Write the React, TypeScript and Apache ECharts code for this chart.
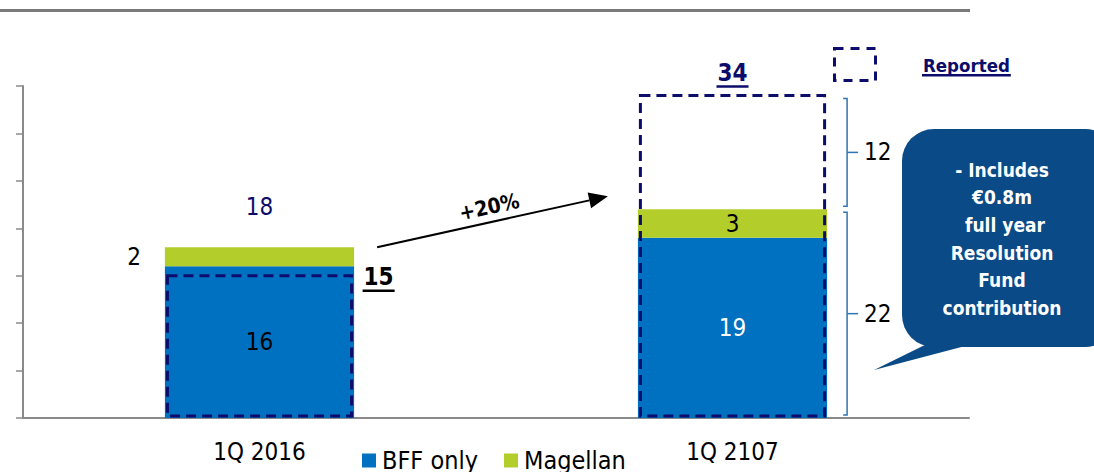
import { useEffect, useRef } from "react";
import * as echarts from "echarts";

// Quarterly figures (EUR m)
const categories = ["1Q 2016", "1Q 2107"];
const bffOnly = [16, 19];
const magellan = [2, 3];
const reported = [15, 34];
const growthLabel = "+20%";
const calloutLines = ["- Includes", "€0.8m", " full year", "Resolution", "Fund", "contribution"];
const reportedKeyLabel = "Reported";

const totals = bffOnly.map((v, i) => v + magellan[i]);

const FONT = "'DejaVu Sans Condensed', 'DejaVu Sans', sans-serif";
const NAVY = "#0C0C6A";
const BLUE = "#0070C0";
const GREEN = "#B3CD2B";
const BRACKET = "#2E75B6";
const CALLOUT = "#0A4A86";
const AXIS = "#8A8A8A";
const BAR_RATIO = 0.4;
const LABEL_SIZE = 24;
const DASH = [10, 6];

let measureCtx: CanvasRenderingContext2D | null = null;
function textWidth(text: string, font: string): number {
  if (!measureCtx) measureCtx = document.createElement("canvas").getContext("2d");
  if (!measureCtx) return text.length * 12;
  measureCtx.font = font;
  return measureCtx.measureText(text).width;
}

function underlinedText(text: string, x: number, y: number, size: number, color: string, align: "left" | "center") {
  const w = textWidth(text, `bold ${size}px ${FONT}`);
  const left = align === "center" ? x - w / 2 : x;
  return [
    {
      type: "text",
      style: {
        text,
        x: left,
        y,
        align: "left",
        verticalAlign: "middle",
        fontSize: size,
        fontWeight: "bold",
        fontFamily: FONT,
        fill: color,
      },
    },
    {
      type: "line",
      shape: { x1: left - 1, y1: y + size * 0.56, x2: left + w + 1, y2: y + size * 0.56 },
      style: { stroke: color, lineWidth: 2.5 },
    },
  ];
}

export default function App() {
  const ref = useRef<HTMLDivElement>(null);

  useEffect(() => {
    if (!ref.current) return;
    const chart = echarts.init(ref.current, undefined, { renderer: "svg" });

    const halfBar = (api: any) => (api.size([1, 0])[0] * BAR_RATIO) / 2;

    const option: any = {
      animation: false,
      textStyle: { fontFamily: FONT },
      grid: { left: 23, right: 125, top: 86, bottom: 54, containLabel: false },
      legend: {
        data: ["BFF only", "Magellan"],
        left: 362,
        top: 448,
        padding: 0,
        itemWidth: 14,
        itemHeight: 14,
        itemGap: 26,
        icon: "rect",
        selectedMode: false,
        textStyle: { fontSize: 25, fontFamily: FONT, color: "#000", padding: [0, 0, 0, 1] },
      },
      xAxis: {
        type: "category",
        data: categories,
        axisLine: { lineStyle: { color: AXIS, width: 2 } },
        axisTick: { length: 9, lineStyle: { color: AXIS, width: 1.5 } },
        axisLabel: { fontSize: 24, color: "#000", margin: 22, fontFamily: FONT },
      },
      yAxis: {
        type: "value",
        min: 0,
        max: 35,
        interval: 5,
        axisLine: { show: true, lineStyle: { color: AXIS, width: 2 } },
        axisTick: { show: true, length: 7, lineStyle: { color: AXIS, width: 1.5 } },
        axisLabel: { show: false },
        splitLine: { show: false },
      },
      series: [
        {
          name: "BFF only",
          type: "bar",
          stack: "q",
          barWidth: `${BAR_RATIO * 100}%`,
          itemStyle: { color: BLUE },
          data: bffOnly.map((v, i) => ({
            value: v,
            label: {
              show: true,
              position: "inside",
              fontSize: LABEL_SIZE,
              fontFamily: FONT,
              color: i === 0 ? "#000" : "#fff",
            },
          })),
        },
        {
          name: "Magellan",
          type: "bar",
          stack: "q",
          itemStyle: { color: GREEN },
          data: magellan.map((v, i) => ({
            value: v,
            label: {
              show: true,
              position: i === 0 ? "left" : "inside",
              distance: 24,
              fontSize: LABEL_SIZE,
              fontFamily: FONT,
              color: "#000",
            },
          })),
        },
        {
          // dashed outline of the reported figure
          name: "Reported",
          type: "custom",
          z: 5,
          data: reported.map((v, i) => [i, v]),
          encode: { x: 0, y: 1 },
          renderItem: (params: any, api: any) => {
            const i = params.dataIndex;
            const top = api.coord([api.value(0), api.value(1)]);
            const base = api.coord([api.value(0), 0]);
            const half = halfBar(api);
            const x0 = top[0] - half + 2.5;
            const x1 = top[0] + half - 2.5;
            const label = String(api.value(1));
            const lbl =
              i === 0
                ? underlinedText(label, x1 + 12, top[1] + 1.5, 24, "#000", "left")
                : underlinedText(label, top[0], top[1] - 22.5, 24, NAVY, "center");
            return {
              type: "group",
              children: [
                {
                  type: "rect",
                  shape: { x: x0, y: top[1], width: x1 - x0, height: base[1] - 2 - top[1] },
                  style: { fill: "none", stroke: NAVY, lineWidth: 3, lineDash: DASH },
                },
                ...lbl,
              ],
            };
          },
        },
        {
          // total above the first stack
          name: "Total",
          type: "custom",
          z: 5,
          data: [[0, totals[0]]],
          encode: { x: 0, y: 1 },
          renderItem: (_p: any, api: any) => {
            const pt = api.coord([api.value(0), api.value(1)]);
            return {
              type: "text",
              style: {
                text: String(api.value(1)),
                x: pt[0],
                y: pt[1] - 40,
                align: "center",
                verticalAlign: "middle",
                fontSize: LABEL_SIZE,
                fontFamily: FONT,
                fill: NAVY,
              },
            };
          },
        },
        {
          // braces splitting the reported figure of the second quarter
          name: "Split",
          type: "custom",
          z: 5,
          data: [
            [1, 0, totals[1]],
            [1, totals[1], reported[1]],
          ],
          encode: { x: 0, y: [1, 2] },
          renderItem: (_p: any, api: any) => {
            const lo = api.coord([api.value(0), api.value(1)]);
            const hi = api.coord([api.value(0), api.value(2)]);
            const bx = lo[0] + halfBar(api) + 20;
            const yTop = hi[1] + 3;
            const yBot = lo[1] - 3;
            const mid = (yTop + yBot) / 2;
            const st = { stroke: BRACKET, lineWidth: 1.5, fill: "none" };
            return {
              type: "group",
              children: [
                { type: "polyline", shape: { points: [[bx - 4, yTop], [bx, yTop], [bx, yBot], [bx - 4, yBot]] }, style: st },
                { type: "line", shape: { x1: bx, y1: mid, x2: bx + 11, y2: mid }, style: st },
                {
                  type: "text",
                  style: {
                    text: String(api.value(2) - api.value(1)),
                    x: bx + 17,
                    y: mid,
                    align: "left",
                    verticalAlign: "middle",
                    fontSize: LABEL_SIZE,
                    fontFamily: FONT,
                    fill: "#000",
                  },
                },
              ],
            };
          },
        },
        {
          // growth arrow between the quarters
          name: "Growth",
          type: "custom",
          z: 6,
          data: [[0, totals[0]]],
          encode: { x: 0, y: 1 },
          renderItem: (_p: any, api: any) => {
            const half = halfBar(api);
            const p0 = api.coord([0, api.value(1)]);
            const p1 = api.coord([1, 0]);
            const sx = p0[0] + half + 23;
            const sy = p0[1];
            const ex = p1[0] - half - 30;
            const ey = sy - 51;
            const len = Math.hypot(ex - sx, ey - sy);
            const dx = (ex - sx) / len;
            const dy = (ey - sy) / len;
            const bx = ex - dx * 19;
            const by = ey - dy * 19;
            const nx = -dy;
            const ny = dx;
            const ang = Math.atan2(-(ey - sy), ex - sx);
            const mx = (sx + ex) / 2;
            const my = (sy + ey) / 2;
            return {
              type: "group",
              children: [
                { type: "line", shape: { x1: sx, y1: sy, x2: bx, y2: by }, style: { stroke: "#000", lineWidth: 2 } },
                {
                  type: "polygon",
                  shape: { points: [[ex, ey], [bx + nx * 8, by + ny * 8], [bx - nx * 8, by - ny * 8]] },
                  style: { fill: "#000" },
                },
                {
                  type: "text",
                  x: mx - nx * 15,
                  y: my - ny * 15,
                  rotation: ang,
                  style: {
                    text: growthLabel,
                    x: 0,
                    y: 0,
                    align: "center",
                    verticalAlign: "middle",
                    fontSize: 21,
                    fontWeight: "bold",
                    fontFamily: FONT,
                    fill: "#000",
                  },
                },
              ],
            };
          },
        },
      ],
      graphic: [
        { type: "rect", shape: { x: 0, y: 9, width: 970, height: 3 }, style: { fill: "#7A7A7A" } },
        {
          type: "rect",
          shape: { x: 834.5, y: 48.5, width: 41, height: 32 },
          style: { fill: "none", stroke: NAVY, lineWidth: 3, lineDash: [9, 7] },
        },
        ...underlinedText(reportedKeyLabel, 923, 65, 18.5, NAVY, "left"),
        {
          type: "group",
          children: [
            { type: "rect", shape: { x: 902, y: 129, width: 215, height: 218, r: 32 }, style: { fill: CALLOUT } },
            { type: "polygon", shape: { points: [[935, 340], [874, 370], [988, 340]] }, style: { fill: CALLOUT } },
            {
              type: "text",
              style: {
                text: calloutLines.join("\n"),
                x: 1002,
                y: 156,
                align: "center",
                verticalAlign: "top",
                lineHeight: 27.6,
                fontSize: 19,
                fontWeight: "bold",
                fontFamily: FONT,
                fill: "#fff",
              },
            },
          ],
        },
      ],
    };

    chart.setOption(option);
    return () => chart.dispose();
  }, []);

  return (
    <div
      ref={ref}
      style={{ position: "fixed", left: 0, top: 0, width: 1094, height: 472, background: "#fff" }}
    />
  );
}
